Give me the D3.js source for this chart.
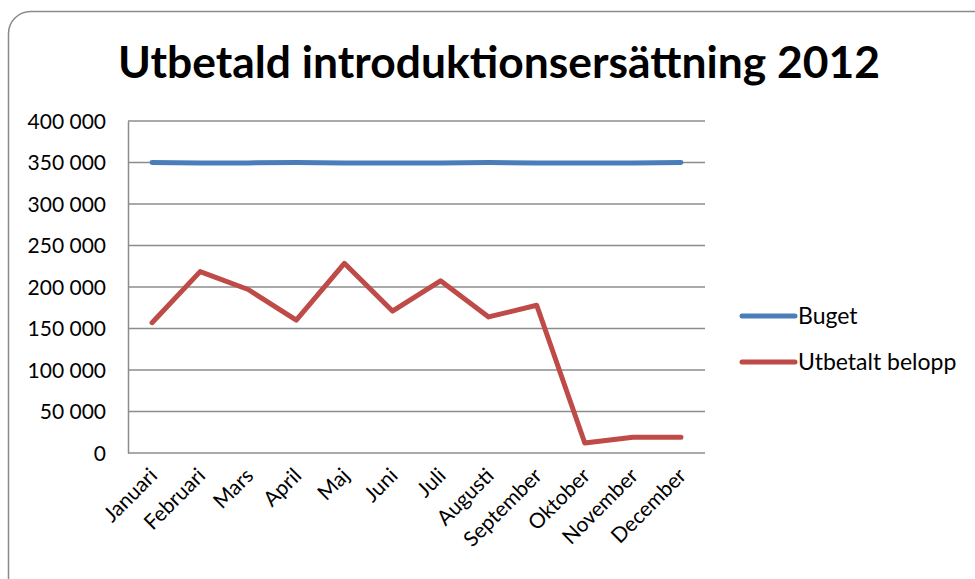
<html>
<head>
<script src="https://d3js.org/d3.v7.min.js"></script>
<style>
  body { margin: 0; background: #fff; }
  text { font-family: Lato, "Open Sans", sans-serif; fill: #000; }
</style>
</head>
<body>
<div id="chart"></div>
<script>
// months, budget line and paid amounts
var months = ["Januari", "Februari", "Mars", "April", "Maj", "Juni", "Juli", "Augusti", "September", "Oktober", "November", "December"]
var buget = [350000, 349500, 349500, 350000, 349500, 349500, 349500, 350000, 349500, 349500, 349500, 350000]
var utbetalt = [157000, 218500, 197000, 160000, 228500, 171000, 207500, 164000, 178000, 12000, 19000, 19000]
var yTicks = [0, 50000, 100000, 150000, 200000, 250000, 300000, 350000, 400000]
var seriesNames = ["Buget", "Utbetalt belopp"]
var colors = ["#4a7ebb", "#be4b48"]

var W = 975, H = 579
var m = {left: 128, right: 705, top: 121, bottom: 453}

var svg = d3.select("#chart").append("svg")
    .attr("width", W).attr("height", H)

// chart frame
svg.append("rect")
    .attr("x", 8.5).attr("y", 11.5)
    .attr("width", 990).attr("height", 600)
    .attr("rx", 22)
    .attr("fill", "#fff").attr("stroke", "#8a8a8a").attr("stroke-width", 1.5)

svg.append("text")
    .attr("x", 499).attr("y", 78)
    .attr("text-anchor", "middle")
    .attr("font-size", 44).attr("font-weight", "bold")
    .attr("textLength", 762).attr("lengthAdjust", "spacingAndGlyphs")
    .text("Utbetald introduktionsersättning 2012")

var x = d3.scalePoint().domain(months).range([m.left, m.right]).padding(0.5)
var y = d3.scaleLinear().domain([0, 400000]).range([m.bottom, m.top])

var fmt = d => d3.format(",")(d).replace(/,/g, " ")

// gridlines
svg.append("g").selectAll("line")
    .data(yTicks.filter(d => d > 0))
    .join("line")
    .attr("x1", m.left).attr("x2", m.right)
    .attr("y1", d => y(d)).attr("y2", d => y(d))
    .attr("stroke", "#8c8c8c").attr("stroke-width", 1.5)

var yAxis = svg.append("g")
    .attr("transform", `translate(${m.left},0)`)
    .call(d3.axisLeft(y).tickValues(yTicks).tickFormat(fmt).tickSize(0).tickPadding(22))
yAxis.select(".domain").attr("stroke", "#8c8c8c").attr("stroke-width", 1.5)
yAxis.selectAll("text").attr("font-size", 21).attr("dy", "0.35em")

var xAxis = svg.append("g")
    .attr("transform", `translate(0,${m.bottom})`)
    .call(d3.axisBottom(x).tickSize(0).tickFormat(d => d))
xAxis.select(".domain").attr("d", `M${m.left},0H${m.right}`).attr("stroke", "#8c8c8c").attr("stroke-width", 1.5)
xAxis.selectAll("text")
    .attr("font-size", 21)
    .attr("text-anchor", "end")
    .attr("dy", 0).attr("y", 0)
    .attr("transform", "translate(6,24) rotate(-45)")

var line = d3.line().x((d, i) => x(months[i])).y(d => y(d))

;[buget, utbetalt].forEach(function(s, i) {
    svg.append("path")
        .datum(s)
        .attr("d", line)
        .attr("fill", "none")
        .attr("stroke", colors[i])
        .attr("stroke-width", 5)
        .attr("stroke-linecap", "round")
        .attr("stroke-linejoin", "round")
})

// legend
var leg = svg.append("g").selectAll("g")
    .data(seriesNames)
    .join("g")
    .attr("transform", (d, i) => `translate(742,${316 + i * 46})`)
leg.append("line")
    .attr("x1", 0).attr("x2", 53)
    .attr("stroke", (d, i) => colors[i]).attr("stroke-width", 5).attr("stroke-linecap", "round")
leg.append("text")
    .attr("x", 56).attr("dy", "0.35em")
    .attr("font-size", 23)
    .text(d => d)
</script>
</body>
</html>
